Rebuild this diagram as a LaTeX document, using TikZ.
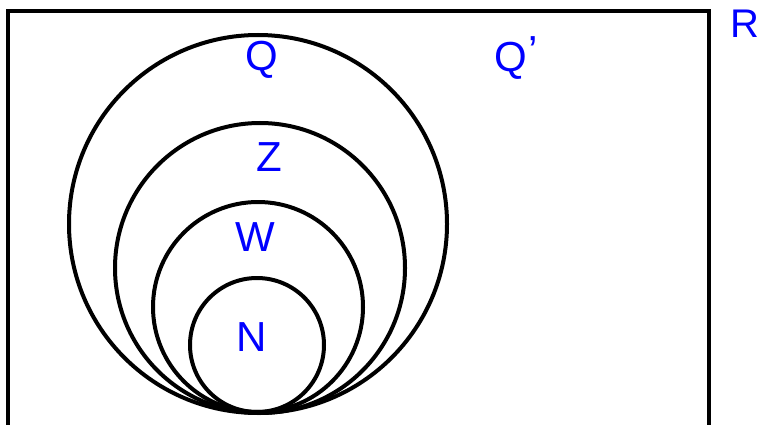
\documentclass[tikz,border=0pt]{standalone}
\usepackage{fontspec}
\setmainfont{Liberation Sans}
\begin{document}
\begin{tikzpicture}[x=1pt,y=-1pt,
  setline/.style={line width=4pt,draw=black},
  lbl/.style={text=blue,font=\fontsize{42}{42}\selectfont,inner sep=0pt,anchor=center}]
\useasboundingbox (0,0) rectangle (765,425);
\fill[white] (0,0) rectangle (765,425);
\draw[setline,line width=4.5pt] (8,11) rectangle (709,432);
\draw[setline] (258,224) circle[radius=189pt];
\draw[setline] (260,268) circle[radius=145pt];
\draw[setline] (258,307) circle[radius=105pt];
\draw[setline] (257,345) circle[radius=67pt];
\node[lbl] (q) at (262,60) {Q};
\node[lbl] (qc) at (516,58) {Q\kern1pt\raisebox{6pt}{'}};
\node[lbl] (z) at (269,157) {Z};
\node[lbl] (w) at (255,237) {W};
\node[lbl] (n) at (252,337) {N};
\node[lbl,font=\fontsize{40}{40}\selectfont] (r) at (745,24) {R};
\end{tikzpicture}
\end{document}
